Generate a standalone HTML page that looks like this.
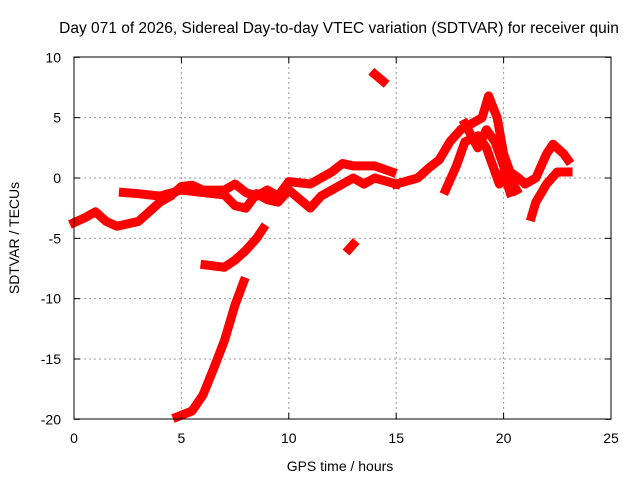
<!DOCTYPE html>
<html><head><meta charset="utf-8"><style>
body{margin:0;background:#fff}
svg{display:block;font-family:"Liberation Sans",sans-serif}
</style></head><body>
<svg id="chart" width="640" height="480">
<rect width="640" height="480" fill="#fff"/>
<g id="grid"></g>
<g id="series"></g>
<rect x="74" y="57" width="537" height="362" fill="none" stroke="#000" stroke-width="1"/>
<g id="ticks"></g>
<text x="339" y="33" text-anchor="middle" font-size="15.5">Day 071 of 2026, Sidereal Day-to-day VTEC variation (SDTVAR) for receiver quin</text>
<text x="340" y="471" text-anchor="middle" font-size="14">GPS time / hours</text>
<text transform="translate(19,238) rotate(-90)" text-anchor="middle" font-size="14">SDTVAR / TECUs</text>
</svg>
<script>
const xTicks=[0,5,10,15,20,25];
const yTicks=[10,5,0,-5,-10,-15,-20];
const trackMain=[[0,-3.7],[0.5,-3.3],[1,-2.8],[1.5,-3.6],[2,-4],[3,-3.6],[4,-2],[4.5,-1.5],[5,-0.7],[5.5,-0.6],[6,-1],[7,-1],[7.5,-0.5],[8,-1.2],[8.5,-1.5],[9,-1],[9.5,-1.5],[10,-0.3],[11,-0.5],[12,0.5],[12.5,1.2],[13,1],[14,1],[14.8,0.5]];
const trackUpper=[[2.3,-1.2],[3,-1.3],[4,-1.5],[5,-1],[6,-1.2],[7,-1.4],[7.5,-2.3],[8,-2.5],[8.5,-1.3],[9,-1.8],[9.5,-2],[10,-1],[11,-2.5],[11.5,-1.5],[12,-1],[12.5,-0.5],[13,0],[13.5,-0.5],[14,0],[15,-0.5]];
const trackPeak=[[15,-0.5],[16,0],[16.5,0.8],[17,1.5],[17.5,3],[18,4],[18.5,4.5],[19,5],[19.3,6.8],[19.7,5],[20,2],[20.3,0.5],[20.7,0],[21,-0.5],[21.5,0],[22,2],[22.3,2.8],[22.8,2],[23,1.5]];
const trackBranch=[[17.3,-1],[17.8,1],[18.2,3],[18.8,3.5],[19.2,2.5],[19.5,1],[19.8,-0.5],[20,0.5],[20.3,-1.2]];
const trackBranch2=[[18.2,4.5],[18.8,2.5],[19.2,4],[19.6,3],[20,1],[20.6,-1]];
const trackLate=[[21.3,-3.2],[21.5,-2],[22,-0.5],[22.5,0.5],[23,0.5]];
const trackIsoHigh=[[14,8.6],[14.2,8.3],[14.4,8]];
const trackIsoMid=[[12.8,-5.9],[13,-5.5]];
const trackDip=[[6.1,-7.2],[7,-7.4],[7.5,-6.8],[8,-6],[8.5,-5],[8.8,-4.2]];
const trackDrop=[[4.8,-19.8],[5.5,-19.3],[6,-18],[6.5,-15.8],[7,-13.5],[7.5,-10.5],[7.9,-8.6]];
const tracks=[trackMain,trackUpper,trackPeak,trackBranch,trackBranch2,trackLate,trackIsoHigh,trackIsoMid,trackDip,trackDrop];
const X=h=>74+h*537/25, Y=v=>178-v*362/30;
const NS="http://www.w3.org/2000/svg";
const g=document.getElementById('grid'),t=document.getElementById('ticks'),s=document.getElementById('series');
function mk(tag,attrs,parent){const e=document.createElementNS(NS,tag);for(const k in attrs)e.setAttribute(k,attrs[k]);parent.appendChild(e);return e;}
xTicks.forEach(v=>{const x=X(v);
 if(v>0&&v<25){const l=mk('line',{x1:x,x2:x,y1:57,y2:419,stroke:'#999','stroke-dasharray':'2,3'},g);}
 mk('line',{x1:x,x2:x,y1:419,y2:413,stroke:'#000'},t);mk('line',{x1:x,x2:x,y1:57,y2:63,stroke:'#000'},t);
 const tx=mk('text',{x:x,y:443,'text-anchor':'middle','font-size':14},t);tx.textContent=v;
 });
yTicks.forEach(v=>{const y=Y(v);
 if(v<10&&v>-20){const l=mk('line',{x1:74,x2:611,y1:y,y2:y,stroke:'#999','stroke-dasharray':'2,3'},g);}
 mk('line',{x1:74,x2:80,y1:y,y2:y,stroke:'#000'},t);mk('line',{x1:605,x2:611,y1:y,y2:y,stroke:'#000'},t);
 const tx=mk('text',{x:61,y:y+5,'text-anchor':'end','font-size':14},t);tx.textContent=v;
 });
tracks.forEach(tr=>{const p=mk('polyline',{points:tr.map(d=>X(d[0])+','+Y(d[1])).join(' '),fill:'none',stroke:'#f00','stroke-width':9,'stroke-linejoin':'round','stroke-linecap':'square'},s);
 
 });
</script>
</body></html>
